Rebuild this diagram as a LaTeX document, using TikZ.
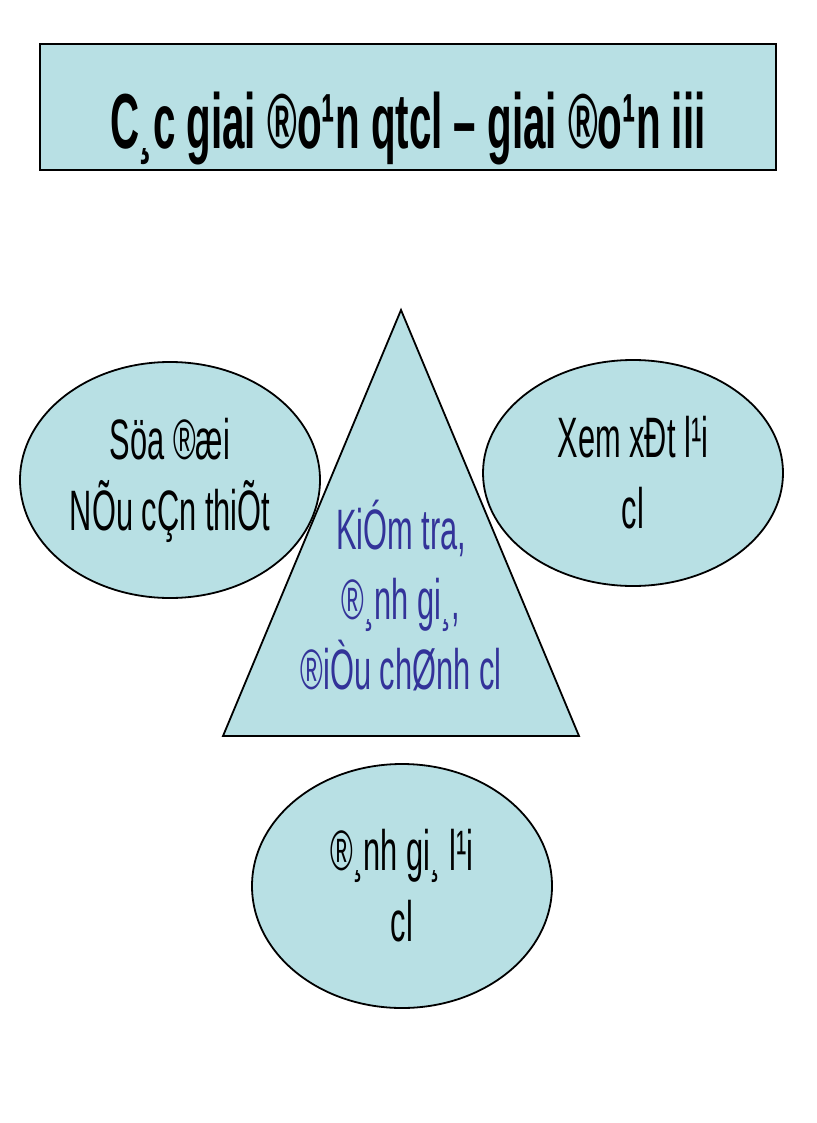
\documentclass[tikz,border=0pt]{standalone}
\usepackage{fontspec}
\usetikzlibrary{shapes.geometric}
\setmainfont{Liberation Sans}
\newfontfamily\narrowfont[FakeStretch=0.54]{Liberation Sans}
\newfontfamily\titlefont[FakeStretch=0.517]{Liberation Sans Bold}
\definecolor{paleblue}{RGB}{184,224,228}
\definecolor{inkblue}{RGB}{51,51,153}
\begin{document}
\begin{tikzpicture}[x=1pt,y=-1pt,
  line width=1.8pt,
  title node/.style={draw,fill=paleblue,minimum width=736pt,minimum height=126pt,inner sep=0pt},
  oval node/.style={ellipse,draw,fill=paleblue,inner sep=0pt,align=center,
    font=\narrowfont\fontsize{57}{71}\selectfont}]

  \useasboundingbox (0,0) rectangle (816,1123);

  % title bar
  \node[title node] (title) at (408,107) {};
  \node[anchor=base,font=\titlefont\fontsize{78}{80}\selectfont] (titletext) at (408,149)
    {C¸c giai ®o¹n qtcl – giai ®o¹n iii};

  % triangle in the middle
  \coordinate (apex) at (401,310);
  \coordinate (baseleft) at (223,736);
  \coordinate (baseright) at (579,736);
  \draw[fill=paleblue] (apex) -- (baseleft) -- (baseright) -- cycle;
  \node[align=center,text=inkblue,font=\narrowfont\fontsize{57}{70}\selectfont] (check) at (401,596)
    {KiÓm tra,\\®¸nh gi¸,\\®iÒu chØnh cl};

  % the three ovals
  \node[oval node,minimum width=300pt,minimum height=236pt] (fix) at (170,480)
    {Söa ®æi\\NÕu cÇn thiÕt};
  \node[oval node,minimum width=300pt,minimum height=226pt] (review) at (633,473)
    {Xem xÐt l¹i\\cl};
  \node[oval node,minimum width=300pt,minimum height=244pt] (reassess) at (402,886)
    {®¸nh gi¸ l¹i\\cl};

\end{tikzpicture}
\end{document}
